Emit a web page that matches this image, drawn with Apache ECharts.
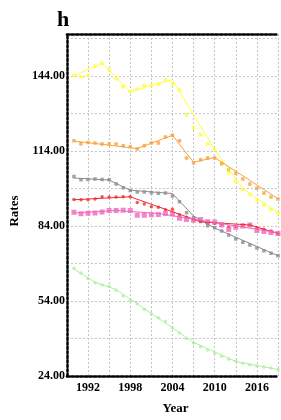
<!DOCTYPE html>
<html>
<head>
<meta charset="utf-8">
<script src="https://cdn.jsdelivr.net/npm/echarts@6/dist/echarts.min.js"></script>
<style>
    html, body { margin: 0; padding: 0; background: #fff; }
    .chart { width: 281px; height: 420px; }
</style>
</head>
<body>
<div class="chart"></div>
<script>
// 年份
var years = [1990, 1991, 1992, 1993, 1994, 1995, 1996, 1997, 1998, 1999,
    2000, 2001, 2002, 2003, 2004, 2005, 2006, 2007, 2008, 2009,
    2010, 2011, 2012, 2013, 2014, 2015, 2016, 2017, 2018, 2019];

// 观测值
var yellowRates = [144.2, 143.6, 144.2, 147.9, 149.0, 146.5, 142.9, 139.7, 137.8, 138.8,
    140.3, 140.3, 140.7, 142.4, 140.8, 138.4, 128.4, 123.2, 120.6, 116.8,
    114.6, 109.2, 105.3, 101.9, 98.7, 96.6, 94.4, 92.4, 90.6, 89.2];
var orangeRates = [118.1, 116.9, 117.4, 117.2, 116.8, 116.9, 116.8, 116.1, 115.7, 114.8,
    116.1, 117.2, 117.2, 119.6, 120.3, 118.1, 111.2, 109.2, 110.5, 111.2,
    111.2, 108.9, 106.6, 105.1, 102.8, 100.8, 99.1, 97.2, 95.6, 94.8];
var grayRates = [103.8, 102.5, 102.6, 102.8, 102.6, 102.5, 100.8, 99.3, 98.2, 97.6,
    97.6, 97.3, 97.1, 97.2, 96.0, 93.7, 89.3, 87.3, 85.8, 84.1,
    83.3, 82.0, 80.4, 78.8, 77.5, 76.4, 75.2, 74.1, 73.1, 72.1];
var redRates = [94.6, 94.5, 94.5, 94.8, 95.7, 95.6, 95.6, 95.7, 95.7, 93.4,
    92.8, 91.7, 91.5, 90.5, 90.7, 88.5, 87.5, 86.6, 85.9, 85.4,
    85.0, 84.6, 83.6, 83.8, 84.4, 84.3, 83.3, 82.7, 82.0, 80.9];
var pinkRates = [89.5, 88.9, 89.1, 89.2, 89.6, 90.2, 90.2, 90.3, 90.2, 88.3,
    88.3, 88.5, 88.6, 89.0, 88.8, 87.1, 86.6, 86.3, 86.6, 85.7,
    85.6, 84.4, 82.6, 83.5, 84.0, 84.4, 82.2, 81.8, 81.4, 81.0];
var greenRates = [67.1, 65.2, 63.0, 61.3, 60.4, 59.9, 58.3, 56.1, 54.2, 52.9,
    50.7, 48.9, 47.3, 45.8, 43.2, 41.2, 39.0, 37.2, 35.7, 34.4,
    33.1, 31.9, 30.7, 29.9, 29.1, 28.5, 28.0, 27.6, 27.2, 26.6];

// 拟合线的转折点 [年份, 值]
var yellowFit = [[1990, 144.0], [1994, 149.2], [1998, 137.8], [2004, 142.5], [2010, 114.5], [2014, 99.0], [2019, 89.2]];
var orangeFit = [[1990, 118.0], [1999, 115.0], [2004, 120.3], [2007, 109.5], [2010, 111.4], [2019, 94.9]];
var grayFit = [[1990, 103.2], [1995, 102.4], [1998, 98.3], [2004, 97.0], [2007, 88.0], [2010, 83.2], [2019, 72.1]];
var redFit = [[1990, 94.5], [1998, 95.7], [2008, 85.7], [2015, 84.4], [2019, 81.0]];
var pinkFit = [[1990, 89.2], [1996, 90.2], [2002, 89.0], [2008, 86.3], [2019, 81.3]];
var greenFit = [[1990, 66.8], [1993, 61.5], [1996, 58.6], [2007, 37.5], [2013, 29.8], [2019, 26.6]];

// 刻度标签
var yTickLabels = [24, 54, 84, 114, 144];
var xTickLabels = [1992, 1998, 2004, 2010, 2016];

(function () {
    var myChart = echarts.init(document.querySelector(".chart"));
    var serif = "'Liberation Serif', 'DejaVu Serif', serif";

    var groups = [
        { rates: yellowRates, fit: yellowFit, color: "#ffff3a", symbol: "circle", size: 4 },
        { rates: orangeRates, fit: orangeFit, color: "#f5a440", symbol: "rect", size: 3.5 },
        { rates: grayRates, fit: grayFit, color: "#8c8c8c", symbol: "rect", size: 3.5 },
        { rates: redRates, fit: redFit, color: "#f02a2a", symbol: "circle", size: 3.5 },
        { rates: pinkRates, fit: pinkFit, color: "#f068bc", symbol: "rect", size: 5 },
        { rates: greenRates, fit: greenFit, color: "#b2eea4", symbol: "circle", size: 3.5 }
    ];

    var series = [];
    groups.forEach(function (g) {
        // 拟合线
        series.push({
            type: "line",
            data: g.fit,
            showSymbol: false,
            lineStyle: { color: g.color, width: 1 },
            silent: true
        });
        // 散点
        series.push({
            type: "scatter",
            data: years.map(function (y, i) { return [y, g.rates[i]]; }),
            symbol: g.symbol,
            symbolSize: g.size,
            itemStyle: { color: g.color }
        });
    });

    var dotted = { color: "#000", width: 2.5, type: [2.5, 2] };
    var grid = { color: "#c4c4c4", width: 1, type: [2, 2] };

    var option = {
        animation: false,
        title: {
            text: "h",
            left: 52,
            top: 4,
            textStyle: { fontFamily: serif, fontWeight: "bold", fontSize: 22, color: "#000" }
        },
        grid: {
            left: 66,
            right: 3,
            top: 34,
            bottom: 34
        },
        xAxis: [
            {
                type: "value",
                min: 1989,
                max: 2019,
                interval: 3,
                name: "Year",
                nameLocation: "middle",
                nameGap: 26,
                nameTextStyle: { fontFamily: serif, fontWeight: "bold", fontSize: 13, color: "#000", padding: [0, 0, 0, 6] },
                axisLine: { lineStyle: dotted },
                axisTick: { show: false },
                axisLabel: {
                    fontFamily: serif, fontWeight: "bold", fontSize: 12, color: "#000", margin: 6,
                    formatter: function (v) {
                        return xTickLabels.indexOf(v) >= 0 ? String(v) : "";
                    }
                },
                splitLine: { lineStyle: grid }
            },
            {
                type: "value",
                position: "top",
                min: 1989,
                max: 2019,
                axisLine: { show: true, lineStyle: dotted },
                axisTick: { show: false },
                axisLabel: { show: false },
                splitLine: { show: false }
            }
        ],
        yAxis: {
            type: "value",
            min: 24,
            max: 160.8,
            interval: 15,
            name: "Rates",
            nameLocation: "middle",
            nameGap: 44,
            nameTextStyle: { fontFamily: serif, fontWeight: "bold", fontSize: 13, color: "#000", padding: [0, 0, 0, -12] },
            axisLine: { show: true, lineStyle: dotted },
            axisTick: { show: false },
            axisLabel: {
                fontFamily: serif, fontWeight: "bold", fontSize: 12, color: "#000", margin: 2,
                formatter: function (v) {
                    return yTickLabels.indexOf(v) >= 0 ? v.toFixed(2) : "";
                }
            },
            splitLine: { lineStyle: grid }
        },
        series: series
    };

    myChart.setOption(option);
    window.addEventListener("resize", function () {
        myChart.resize();
    });
})();
</script>
</body>
</html>
